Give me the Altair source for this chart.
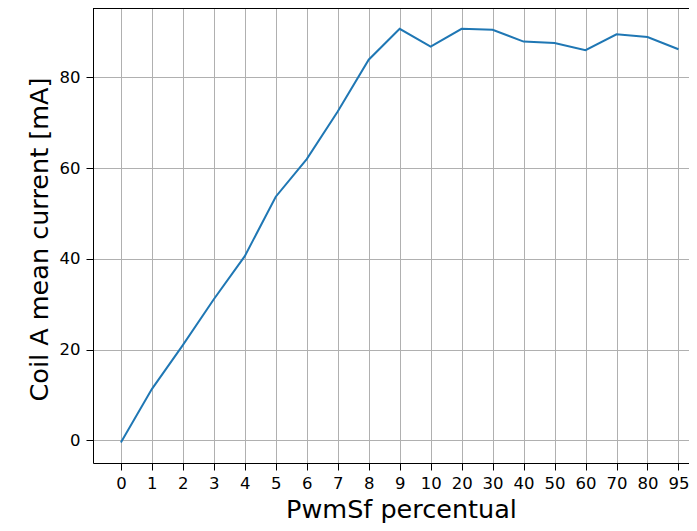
import altair as alt
import pandas as pd

pwm_labels = ["0", "1", "2", "3", "4", "5", "6", "7", "8", "9", "10",
              "20", "30", "40", "50", "60", "70", "80", "95"]
current_ma = [-0.5, 11.3, 21.0, 31.1, 40.6, 53.7, 62.0, 72.5, 83.9, 90.7,
              86.8, 90.7, 90.5, 87.9, 87.6, 86.0, 89.5, 88.9, 86.2]
y_ticks = [0, 20, 40, 60, 80]

df = pd.DataFrame({
    "idx": list(range(len(pwm_labels))),
    "label": pwm_labels,
    "current": current_ma,
})

W, H = 596, 455
FONT = "DejaVu Sans"
label_array = "[" + ",".join("'%s'" % s for s in pwm_labels) + "]"

line = alt.Chart(df).mark_line(color="#1f77b4", strokeWidth=2).encode(
    x=alt.X(
        "idx:Q",
        scale=alt.Scale(domain=[-0.9, 18.34], nice=False, zero=False),
        axis=alt.Axis(
            values=list(range(len(pwm_labels))),
            labelExpr=label_array + "[datum.value]",
            title="PwmSf percentual",
            titleX=308,
            titleY=54,
            titleBaseline="alphabetic",
            labelPadding=5,
        ),
    ),
    y=alt.Y(
        "current:Q",
        scale=alt.Scale(domain=[-5.0, 95.3], nice=False, zero=False),
        axis=alt.Axis(
            values=y_ticks,
            title="Coil A mean current [mA]",
            titleX=-46,
            titleY=231,
            titleBaseline="alphabetic",
            titleAngle=270,
            labelPadding=6,
        ),
    ),
)

top_border = alt.Chart(alt.Data(values=[{}])).mark_rule(
    color="black", strokeWidth=1
).encode(x=alt.value(0), x2=alt.value(W), y=alt.value(0.5))

chart = alt.layer(line, top_border).properties(
    width=W,
    height=H,
    padding={"left": 85, "top": 0, "right": 0, "bottom": 60},
    autosize=alt.AutoSizeParams(type="none"),
).configure_view(stroke=None).configure_axis(
    domainColor="black",
    domainWidth=1,
    tickColor="black",
    tickWidth=1,
    tickSize=7,
    labelFont=FONT,
    labelFontSize=16.5,
    labelColor="black",
    titleFont=FONT,
    titleFontSize=25.5,
    titleFontWeight="normal",
    titleColor="black",
    grid=True,
    gridColor="#b0b0b0",
    gridWidth=1,
)

chart.save("out.html", embed_options={"renderer": "svg", "actions": False})
